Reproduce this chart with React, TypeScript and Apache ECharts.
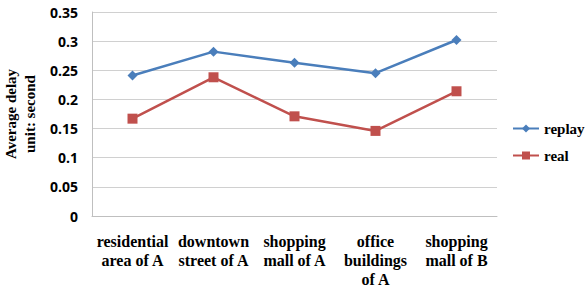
import React, { useEffect, useRef } from "react";
import * as echarts from "echarts";

const categories = [
  "residential\narea of A",
  "downtown\nstreet of A",
  "shopping\nmall of A",
  "office\nbuildings\nof A",
  "shopping\nmall of B",
];
const replayValues = [0.241, 0.282, 0.263, 0.245, 0.302];
const realValues = [0.167, 0.238, 0.171, 0.146, 0.214];
const yTicks = [0, 0.05, 0.1, 0.15, 0.2, 0.25, 0.3, 0.35];

export default function App() {
  const ref = useRef<HTMLDivElement>(null);
  useEffect(() => {
    if (!ref.current) return;
    const chart = echarts.init(ref.current, null, { renderer: "svg" });
    chart.setOption({
      animation: false,
      backgroundColor: "#ffffff",
      grid: {
        left: 92,
        right: 91,
        top: 12,
        bottom: 72,
        containLabel: false,
        outerBoundsMode: "none",
      },
      legend: {
        orient: "vertical",
        left: 512,
        top: 121,
        padding: 0,
        itemGap: 12,
        itemWidth: 26,
        itemHeight: 10,
        textStyle: {
          fontFamily: "Liberation Serif",
          fontWeight: "bold",
          fontSize: 15,
          color: "#000",
        },
        data: ["replay", "real"],
      },
      xAxis: {
        type: "category",
        data: categories,
        boundaryGap: true,
        axisLine: { lineStyle: { color: "#bfbfbf" } },
        axisTick: { show: false },
        axisLabel: {
          interval: 0,
          margin: 16,
          fontFamily: "Liberation Serif",
          fontWeight: "bold",
          fontSize: 16,
          lineHeight: 19,
          color: "#000",
          align: "center",
        },
      },
      yAxis: {
        type: "value",
        min: 0,
        max: 0.35,
        interval: 0.05,
        name: "Average delay\nunit: second",
        nameLocation: "middle",
        nameGap: 49,
        nameRotate: 90,
        nameTextStyle: {
          fontFamily: "Liberation Serif",
          fontWeight: "bold",
          fontSize: 15,
          lineHeight: 19,
          color: "#000",
        },
        axisLine: { show: true, lineStyle: { color: "#bfbfbf" } },
        axisTick: { show: false },
        splitLine: { lineStyle: { color: "#d0d0d0" } },
        axisLabel: {
          margin: 14,
          fontFamily: "Open Sans",
          fontWeight: "bold",
          fontSize: 14,
          color: "#000",
          formatter: (v: number) => {
            const t = yTicks.find((x) => Math.abs(x - v) < 1e-9);
            return String(t !== undefined ? t : v);
          },
        },
      },
      series: [
        {
          name: "replay",
          type: "line",
          data: replayValues,
          symbol: "diamond",
          symbolSize: 10,
          color: "#4a7ebb",
          lineStyle: { width: 2.5, color: "#4a7ebb" },
          itemStyle: { color: "#4a7ebb" },
        },
        {
          name: "real",
          type: "line",
          data: realValues,
          symbol: "rect",
          symbolSize: 10,
          color: "#c0504d",
          lineStyle: { width: 2.5, color: "#c0504d" },
          itemStyle: { color: "#c0504d" },
        },
      ],
    });
    return () => chart.dispose();
  }, []);
  return <div ref={ref} style={{ width: 588, height: 288, position: "absolute", left: 0, top: 0 }} />;
}
